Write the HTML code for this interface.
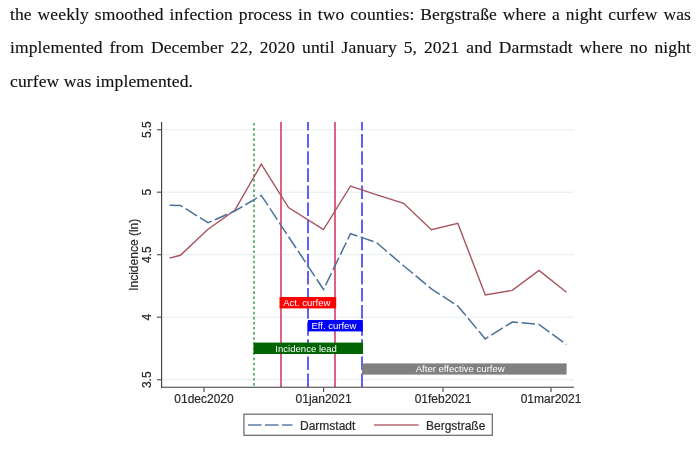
<!DOCTYPE html>
<html><head><meta charset="utf-8"><style>
*{-webkit-font-smoothing:antialiased;}
html,body{margin:0;padding:0;background:#fff;width:700px;height:455px;overflow:hidden;}
.p{position:absolute;left:10px;width:681px;font-family:"Liberation Serif",serif;font-size:17.5px;color:#111;-webkit-text-stroke:0.15px #111;letter-spacing:0.12px;white-space:nowrap;will-change:transform;}
.j{text-align:justify;text-align-last:justify;}
svg{position:absolute;left:0;top:0;will-change:transform;font-family:"Liberation Sans",sans-serif;}
svg text{stroke:#2a2a2a;stroke-width:0.2px;fill:#2a2a2a;}
svg text.w{fill:#fff;stroke:none;}
</style></head><body>
<div class="p j" id="l1" style="top:3.4px;height:22px;line-height:22px;">the weekly smoothed infection process in two counties: Bergstraße where a night curfew was</div>
<div class="p j" id="l2" style="top:36.4px;height:22px;line-height:22px;">implemented from December 22, 2020 until January 5, 2021 and Darmstadt where no night</div>
<div class="p" id="l3" style="top:69.6px;height:22px;line-height:22px;">curfew was implemented.</div>
<svg width="700" height="455" viewBox="0 0 700 455">
<line x1="162" y1="129.7" x2="574" y2="129.7" stroke="#e4eeee" stroke-width="1"/>
<line x1="162" y1="192.2" x2="574" y2="192.2" stroke="#e4eeee" stroke-width="1"/>
<line x1="162" y1="254.7" x2="574" y2="254.7" stroke="#e4eeee" stroke-width="1"/>
<line x1="162" y1="317.2" x2="574" y2="317.2" stroke="#e4eeee" stroke-width="1"/>
<line x1="162" y1="379.75" x2="574" y2="379.75" stroke="#e4eeee" stroke-width="1"/>
<line x1="254" y1="123" x2="254" y2="387" stroke="#6cb679" stroke-width="2" stroke-dasharray="2.6 2.5"/>
<line x1="281" y1="122" x2="281" y2="387" stroke="#dc6383" stroke-width="2"/>
<line x1="335" y1="122" x2="335" y2="387" stroke="#dc6383" stroke-width="2"/>
<line x1="308" y1="122" x2="308" y2="387" stroke="#6060ff" stroke-width="2" stroke-dasharray="13.6 3.5" stroke-dashoffset="5"/>
<line x1="362" y1="122" x2="362" y2="387" stroke="#6060ff" stroke-width="2" stroke-dasharray="13.6 3.5" stroke-dashoffset="5"/>
<rect x="279.5" y="297" width="56.69999999999999" height="11.399999999999977" fill="#ff0000"/><text class="w" x="306.75" y="306.09999999999997" font-size="9.55" text-anchor="middle">Act. curfew</text>
<rect x="307.9" y="320" width="54.900000000000034" height="11.399999999999977" fill="#0000ff"/><text class="w" x="333.85" y="329.09999999999997" font-size="9.55" text-anchor="middle">Eff. curfew</text>
<rect x="253.5" y="342.6" width="109.5" height="11.399999999999977" fill="#006400"/><text class="w" x="306.15" y="351.7" font-size="9.55" text-anchor="middle">Incidence lead</text>
<rect x="362" y="363.4" width="204.60000000000002" height="11.200000000000045" fill="#808080"/><text class="w" x="460.2" y="372.4" font-size="9.55" text-anchor="middle">After effective curfew</text>
<polyline points="169.5,258.1 180.4,255.3 208,229.3 234.8,210.3 261.3,164.2 288.5,207.5 323.5,229.5 350.5,186 376.2,194.6 403.6,203.3 431.4,229.8 457.8,223.3 485.3,294.9 512.3,290.4 539,270.5 566.5,292.3" fill="none" stroke="#a8535e" stroke-width="1.4" stroke-linejoin="miter"/>
<polyline points="169.5,205.2 180.4,205.4 208,222.7 234.8,211 261.3,195.4 288.5,236.6 323.5,289.5 350.5,233.7 376.2,242.4 403.6,265.7 431.4,288.8 457.8,306 485.3,338.9 512.3,322 539,324.4 566.5,344.5" fill="none" stroke="#4a7098" stroke-width="1.5" stroke-dasharray="13.5 3.5" stroke-linejoin="miter"/>
<line x1="161.6" y1="122" x2="161.6" y2="387.7" stroke="#3a3a3a" stroke-width="1.1"/>
<line x1="161" y1="387.2" x2="574" y2="387.2" stroke="#3a3a3a" stroke-width="1.1"/>
<line x1="157" y1="129.7" x2="161.6" y2="129.7" stroke="#555" stroke-width="1.2"/>
<text transform="translate(151,129.7) rotate(-90)" text-anchor="middle" font-size="12" >5.5</text>
<line x1="157" y1="192.2" x2="161.6" y2="192.2" stroke="#555" stroke-width="1.2"/>
<text transform="translate(151,192.2) rotate(-90)" text-anchor="middle" font-size="12" >5</text>
<line x1="157" y1="254.7" x2="161.6" y2="254.7" stroke="#555" stroke-width="1.2"/>
<text transform="translate(151,254.7) rotate(-90)" text-anchor="middle" font-size="12" >4.5</text>
<line x1="157" y1="317.2" x2="161.6" y2="317.2" stroke="#555" stroke-width="1.2"/>
<text transform="translate(151,317.2) rotate(-90)" text-anchor="middle" font-size="12" >4</text>
<line x1="157" y1="379.75" x2="161.6" y2="379.75" stroke="#555" stroke-width="1.2"/>
<text transform="translate(151,379.75) rotate(-90)" text-anchor="middle" font-size="12" >3.5</text>
<line x1="204" y1="387.2" x2="204" y2="392" stroke="#555" stroke-width="1.2"/>
<text x="204" y="402.6" text-anchor="middle" font-size="12" >01dec2020</text>
<line x1="323.6" y1="387.2" x2="323.6" y2="392" stroke="#555" stroke-width="1.2"/>
<text x="323.6" y="402.6" text-anchor="middle" font-size="12" >01jan2021</text>
<line x1="443" y1="387.2" x2="443" y2="392" stroke="#555" stroke-width="1.2"/>
<text x="443" y="402.6" text-anchor="middle" font-size="12" >01feb2021</text>
<line x1="551" y1="387.2" x2="551" y2="392" stroke="#555" stroke-width="1.2"/>
<text x="551" y="402.6" text-anchor="middle" font-size="12" >01mar2021</text>
<text transform="translate(137.9,254.8) rotate(-90)" text-anchor="middle" font-size="12" >Incidence (ln)</text>
<rect x="243.9" y="414.2" width="248.4" height="21.1" fill="#fff" stroke="#666" stroke-width="1.2"/>
<line x1="248" y1="425" x2="292.4" y2="425" stroke="#5b7fa6" stroke-width="1.3" stroke-dasharray="13.6 3.4"/>
<text x="300" y="429.8" font-size="12" >Darmstadt</text>
<line x1="374" y1="425" x2="418.6" y2="425" stroke="#b76a74" stroke-width="1.3"/>
<text x="426" y="429.8" font-size="12" >Bergstraße</text>
</svg>
</body></html>
